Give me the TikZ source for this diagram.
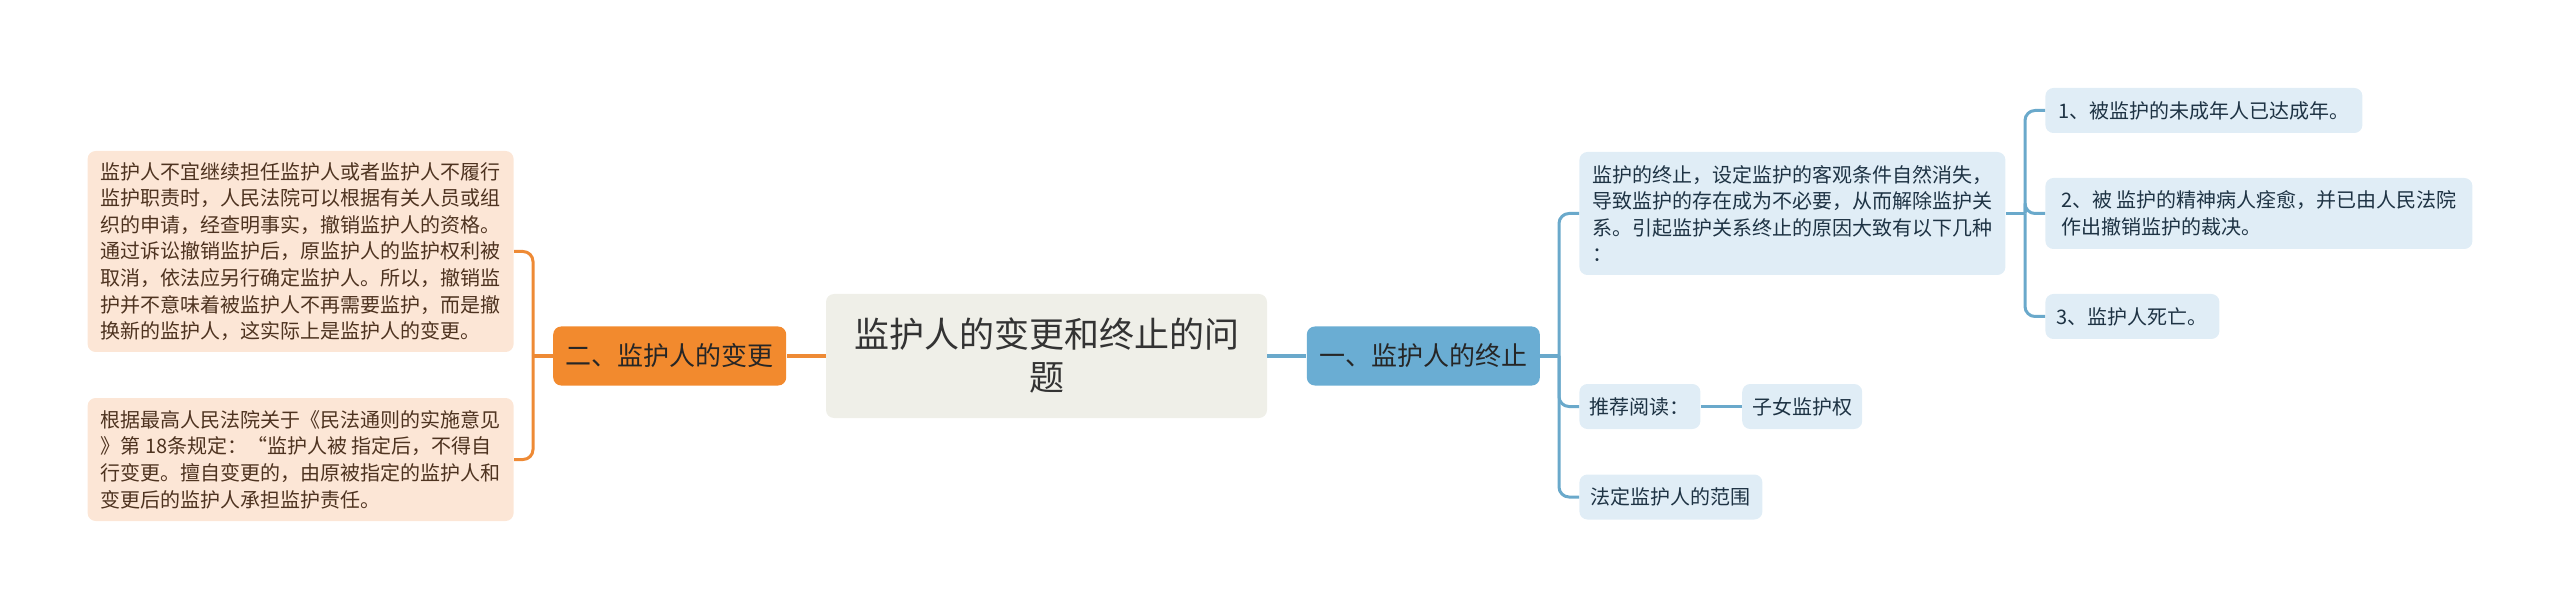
\documentclass[tikz,border=0pt]{standalone}
\usepackage{fontspec}
\setmainfont{Noto Sans CJK SC}
\usetikzlibrary{positioning}
\definecolor{rootfill}{HTML}{EFEFE8}
\definecolor{orangemain}{HTML}{F28A2E}
\definecolor{orangeleaf}{HTML}{FCE6D6}
\definecolor{orangeline}{HTML}{EE8A35}
\definecolor{orangetext}{HTML}{4E3320}
\definecolor{bluemain}{HTML}{6AADD3}
\definecolor{blueleaf}{HTML}{E0EDF6}
\definecolor{blueline}{HTML}{6AA9CB}
\definecolor{bluetext}{HTML}{1E3344}

\begin{document}
\begin{tikzpicture}[x=0.5pt, y=-0.5pt,
  box/.style={rounded corners=4pt, inner sep=0pt, align=left},
  rootbox/.style={box, fill=rootfill, minimum width=220.5pt, minimum height=62pt, align=center, text=black!80, font=\fontsize{17.5pt}{21.5pt}\selectfont},
  mainbox/.style={box, minimum width=116.5pt, minimum height=29.5pt, font=\fontsize{13pt}{16pt}\selectfont},
  oleaf/.style={box, fill=orangeleaf, text=orangetext, minimum width=213pt, font=\fontsize{10pt}{13.3pt}\selectfont},
  bleaf/.style={box, fill=blueleaf, text=bluetext, minimum height=22.5pt, font=\fontsize{10pt}{13.3pt}\selectfont},
  oline/.style={orangeline, line width=1.5pt, rounded corners=5pt},
  bline/.style={blueline, line width=1.5pt, rounded corners=5pt}]
  \useasboundingbox (0,0) rectangle (2560,609);

  \node[rootbox] (root) at (1046.5,356) {监护人的变更和终止的问\\题};
  \node[mainbox, fill=orangemain, text=black!85, left=19.5pt of root] (biangeng) {二、监护人的变更};
  \node[mainbox, fill=bluemain, text=black!85, right=19.5pt of root] (zhongzhi) {一、监护人的终止};

  \node[oleaf, minimum height=100.5pt, anchor=east] (chexiao) at (514,251.5) {监护人不宜继续担任监护人或者监护人不履行\\监护职责时，人民法院可以根据有关人员或组\\织的申请，经查明事实，撤销监护人的资格。\\通过诉讼撤销监护后，原监护人的监护权利被\\取消，依法应另行确定监护人。所以，撤销监\\护并不意味着被监护人不再需要监护，而是撤\\换新的监护人，这实际上是监护人的变更。};
  \node[oleaf, minimum height=61.5pt, anchor=east] (guiding) at (514,459.5) {根据最高人民法院关于《民法通则的实施意见\\》第 18条规定：“监护人被 指定后，不得自\\行变更。擅自变更的，由原被指定的监护人和\\变更后的监护人承担监护责任。};

  \node[bleaf, minimum width=213pt, minimum height=61.5pt, anchor=west] (yuanyin) at (1579,213.5) {监护的终止，设定监护的客观条件自然消失，\\导致监护的存在成为不必要，从而解除监护关\\系。引起监护关系终止的原因大致有以下几种\\：};
  \node[bleaf, minimum width=60.5pt, anchor=west] (tuijian) at (1579,406.5) {推荐阅读：};
  \node[bleaf, minimum width=60pt, right=20.5pt of tuijian] (zinv) {子女监护权};
  \node[bleaf, minimum width=91.5pt, anchor=west] (fanwei) at (1579,497) {法定监护人的范围};

  \node[bleaf, minimum width=158.5pt, anchor=west] (chengnian) at (2045,110.5) {1、被监护的未成年人已达成年。};
  \node[bleaf, minimum width=213.5pt, minimum height=35.5pt, anchor=west] (quanyu) at (2045,213.5) {2、被 监护的精神病人痊愈，并已由人民法院\\作出撤销监护的裁决。};
  \node[bleaf, minimum width=87pt, anchor=west] (siwang) at (2045,316.5) {3、监护人死亡。};

  \coordinate (ltrunk) at (533,356);
  \coordinate (rtrunk) at (1559,356);
  \coordinate (ttrunk) at (2025,213.5);

  \draw[oline] (root) -- (biangeng);
  \draw[oline] (biangeng.west) -- (ltrunk);
  \draw[oline] (ltrunk) |- (chexiao.east);
  \draw[oline] (ltrunk) |- (guiding.east);

  \draw[bline] (root) -- (zhongzhi);
  \draw[bline] (zhongzhi.east) -- (rtrunk);
  \draw[bline] (rtrunk) |- (yuanyin.west);
  \draw[bline] (rtrunk) |- (tuijian.west);
  \draw[bline] (rtrunk) |- (fanwei.west);
  \draw[bline] (tuijian) -- (zinv);
  \draw[bline] (yuanyin.east) -- (ttrunk);
  \draw[bline] (ttrunk) |- (chengnian.west);
  \draw[bline] (ttrunk) |- (quanyu.west);
  \draw[bline] (ttrunk) |- (siwang.west);
\end{tikzpicture}
\end{document}
